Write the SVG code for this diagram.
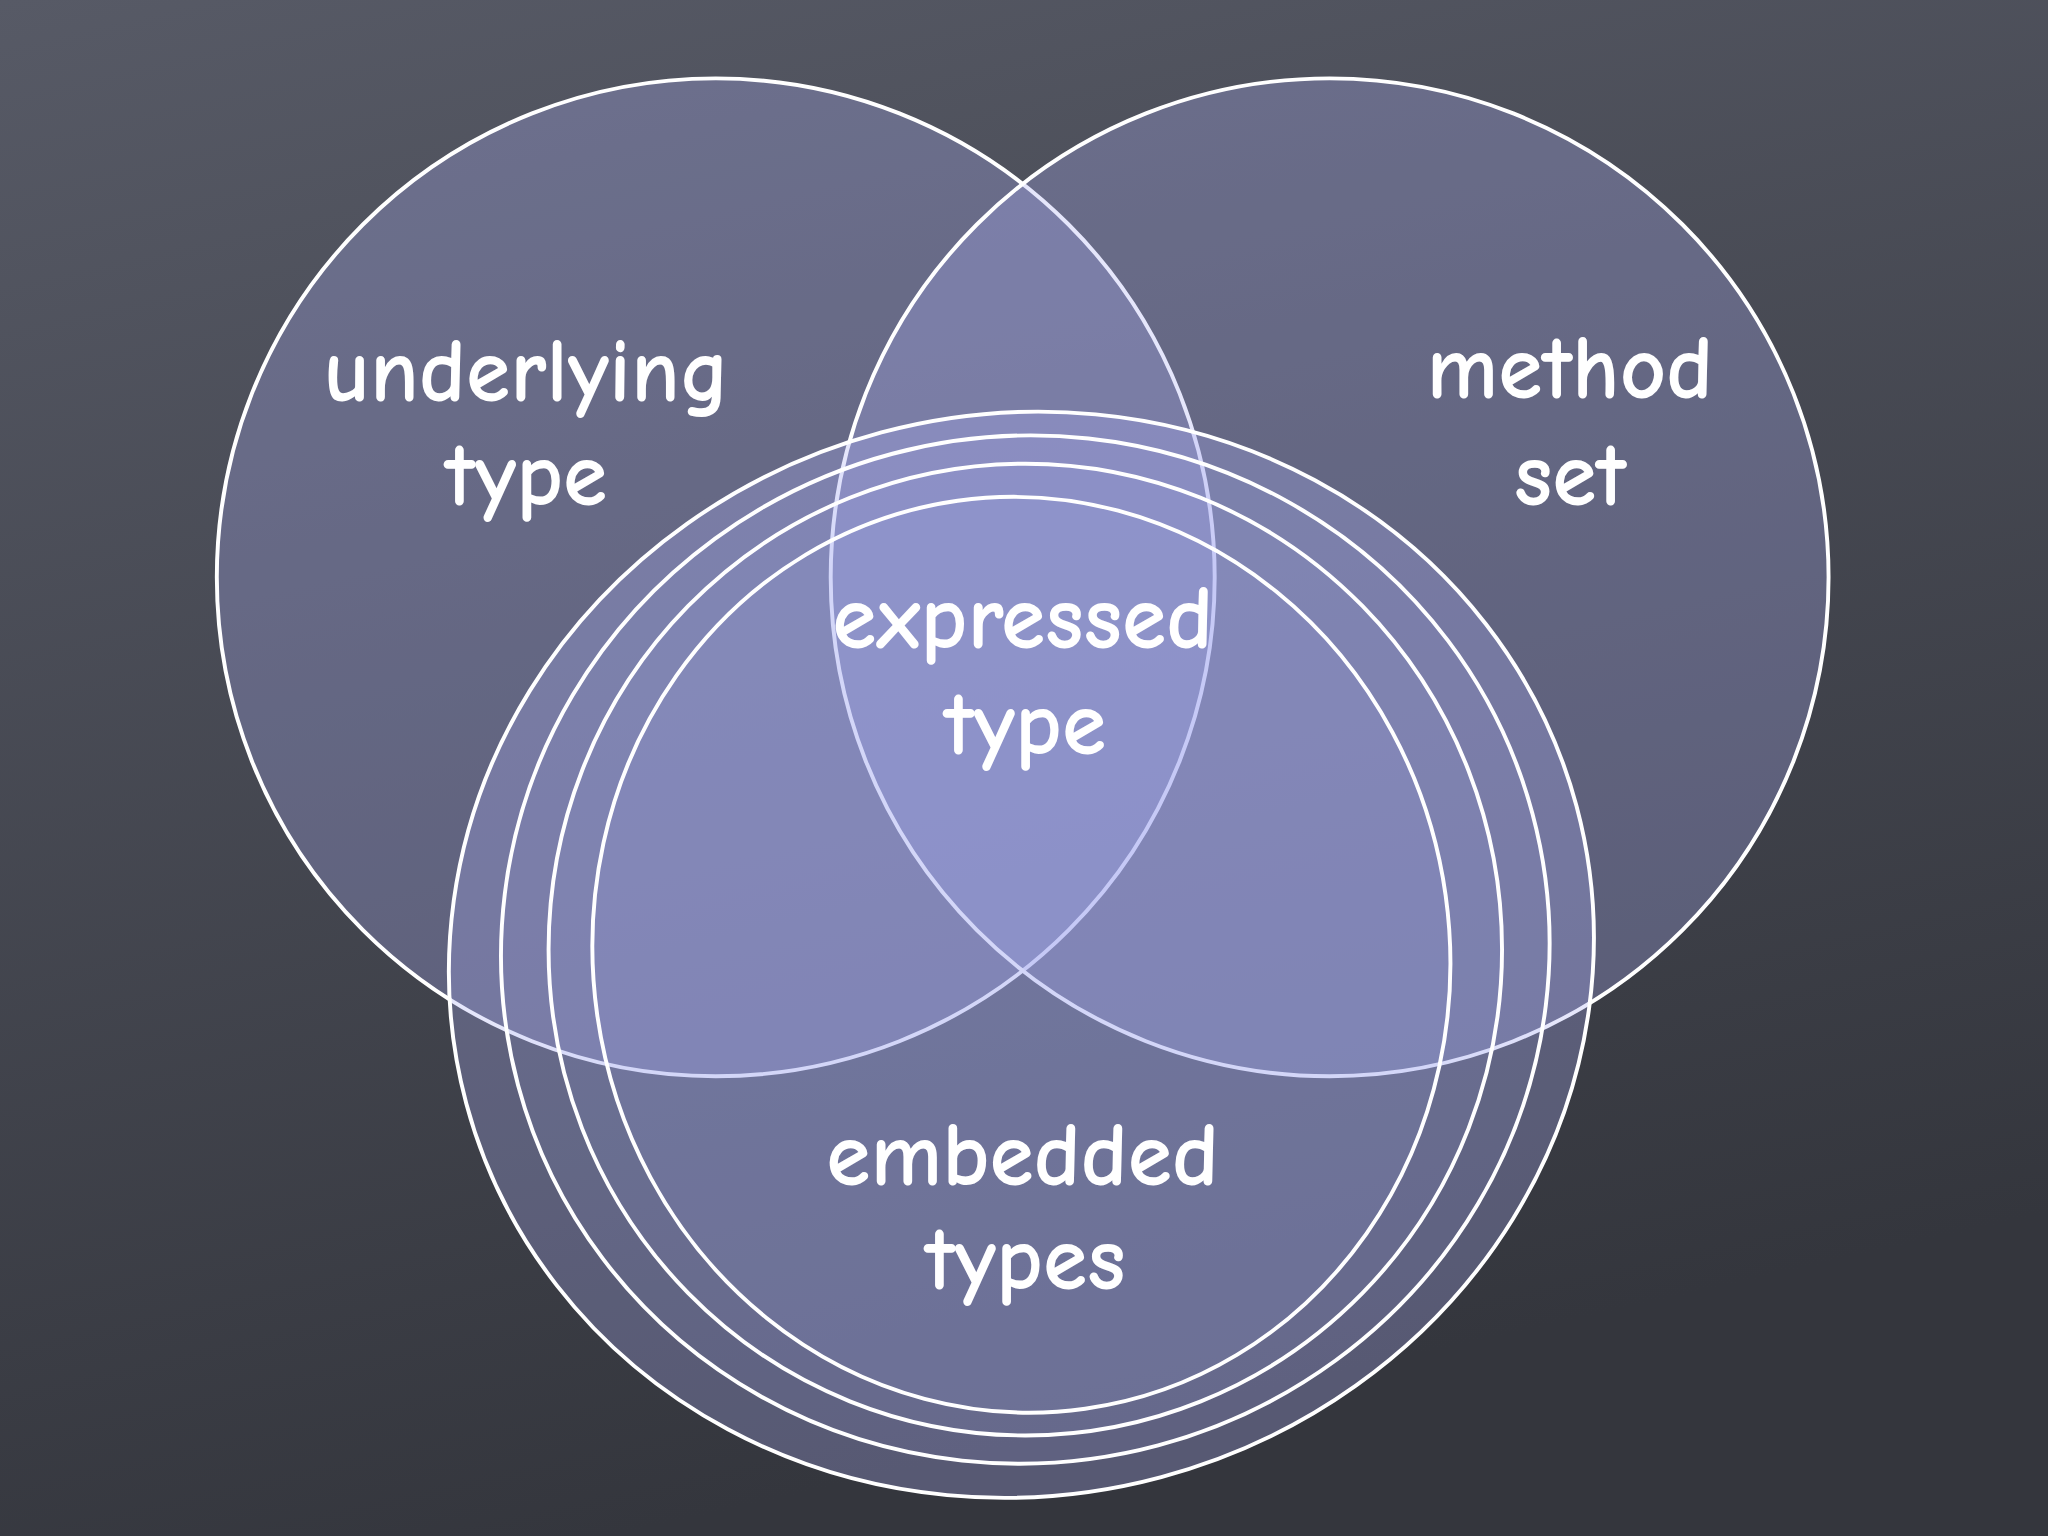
<svg xmlns="http://www.w3.org/2000/svg" width="2048" height="1536" viewBox="0 0 2048 1536">
<defs>
<linearGradient id="bg" x1="0" y1="0" x2="0.3" y2="1">
<stop offset="0" stop-color="#575a66"/>
<stop offset="1" stop-color="#34363d"/>
</linearGradient>
<style>
.c{stroke:#ffffff;stroke-width:3;fill:#a9acf2;fill-opacity:0.3}
.s{stroke:#ffffff;stroke-width:3;fill:#a9acf2;fill-opacity:0.1}
.t{font-family:"Comic Neue","DejaVu Sans",sans-serif;font-weight:bold;font-size:69px;fill:#ffffff;text-anchor:middle}
</style>
</defs>
<rect width="2048" height="1536" fill="url(#bg)"/>
<g transform="scale(1.30612)">
<g id="underlying"><circle class="c" cx="548" cy="442" r="382"/></g>
<g id="method"><circle class="c" cx="1018" cy="442" r="382"/></g>
<g id="embedded">
<ellipse class="c" cx="782" cy="731" rx="440" ry="414" transform="rotate(-15 782 731)"/>
<ellipse class="s" cx="785" cy="727" rx="402" ry="393" transform="rotate(-15 785 727)"/>
<ellipse class="s" cx="785" cy="727" rx="365" ry="372"/>
<ellipse class="s" cx="782" cy="731" rx="328" ry="351" transform="rotate(-8 782 731)"/>
</g>
<g id="labels">
<text class="t" x="403" y="307">underlying</text>
<text class="t" x="403" y="387">type</text>
<text class="t" x="1202" y="305">method</text>
<text class="t" x="1202" y="387">set</text>
<text class="t" x="783" y="496">expressed</text>
<text class="t" x="785" y="577">type</text>
<text class="t" x="783" y="907">embedded</text>
<text class="t" x="785" y="987">types</text>
</g>
</g>
</svg>
